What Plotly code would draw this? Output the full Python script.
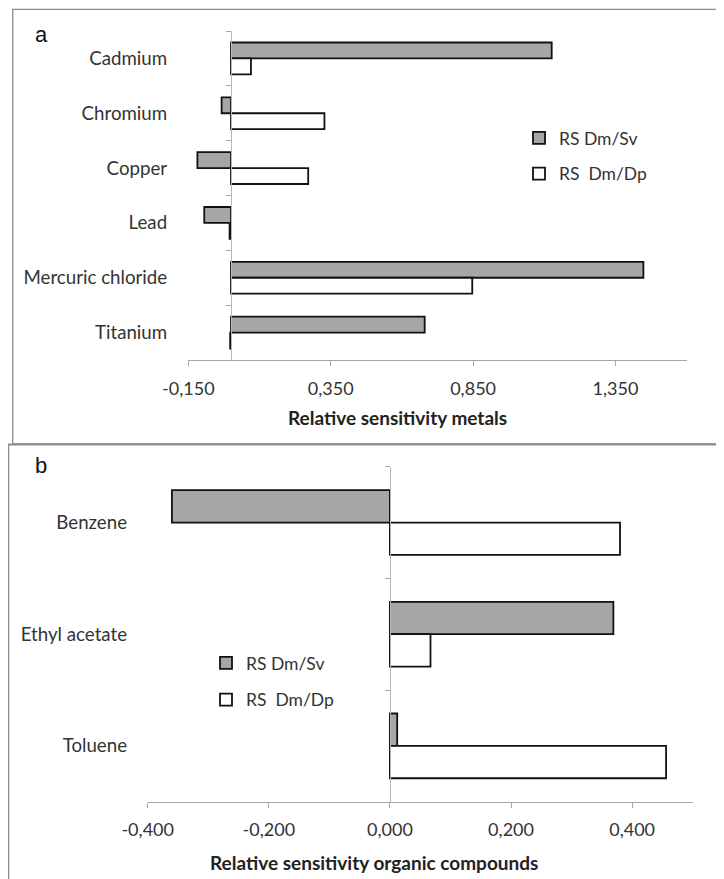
import plotly.graph_objects as go

# ---- data ----
metals = ["Cadmium", "Chromium", "Copper", "Lead", "Mercuric chloride", "Titanium"]
metals_sv = [1.126, -0.033, -0.118, -0.094, 1.448, 0.680]
metals_dp = [0.070, 0.328, 0.271, -0.005, 0.847, -0.003]
metals_ticks = [-0.15, 0.35, 0.85, 1.35]
metals_ticktext = ["-0,150", "0,350", "0,850", "1,350"]
metals_range = [-0.15, 1.6]

organics = ["Benzene", "Ethyl acetate", "Toluene"]
organics_sv = [-0.360, 0.369, 0.012]
organics_dp = [0.380, 0.067, 0.456]
organics_ticks = [-0.4, -0.2, 0.0, 0.2, 0.4]
organics_ticktext = ["-0,400", "-0,200", "0,000", "0,200", "0,400"]
organics_range = [-0.4, 0.5]

series_names = ["RS Dm/Sv", "RS\u00a0 Dm/Dp"]

# page body has an 8px margin; figure fills the rest of the 724x879 window
OFF = 8
W, H = 724 - OFF, 879 - OFF
FONT = "Lato"
GREY = "#a6a6a6"
AXIS = "#a8a8a8"
TXT = "#333333"

def px(x):
    return (x - OFF) / W

def py(y):
    return 1 - (y - OFF) / H

# plot areas in reference-page pixels
a_dom_x = [px(188.3), px(686.7)]
a_dom_y = [py(360.0), py(31.0)]
b_dom_x = [px(147.7), px(692.7)]
b_dom_y = [py(801.7), py(466.7)]

def zero_pos(dom, rng):
    return dom[0] + (0 - rng[0]) / (rng[1] - rng[0]) * (dom[1] - dom[0])

fig = go.Figure()

bar_line = dict(color="#111111", width=1.8)

fig.add_trace(go.Bar(y=metals, x=metals_sv, orientation="h", name=series_names[0],
                     marker=dict(color=GREY, line=bar_line), xaxis="x", yaxis="y",
                     legend="legend", legendgroup="a1"))
fig.add_trace(go.Bar(y=metals, x=metals_dp, orientation="h", name=series_names[1],
                     marker=dict(color="white", line=bar_line), xaxis="x", yaxis="y",
                     legend="legend", legendgroup="a2"))
fig.add_trace(go.Bar(y=organics, x=organics_sv, orientation="h", name=series_names[0],
                     marker=dict(color=GREY, line=bar_line), xaxis="x2", yaxis="y2",
                     legend="legend2", legendgroup="b1"))
fig.add_trace(go.Bar(y=organics, x=organics_dp, orientation="h", name=series_names[1],
                     marker=dict(color="white", line=bar_line), xaxis="x2", yaxis="y2",
                     legend="legend2", legendgroup="b2"))

xcommon = dict(showline=True, linecolor=AXIS, linewidth=1.3, ticks="outside", ticklen=5,
               tickcolor=AXIS, showgrid=False, zeroline=False, automargin=False,
               tickfont=dict(family=FONT, size=18, color=TXT), ticklabelstandoff=7)
ycommon = dict(showline=True, linecolor="#b8b8b8", linewidth=1.3, ticks="outside", ticklen=5,
               tickcolor=AXIS, tickson="boundaries", showgrid=False, zeroline=False,
               automargin=False, autorange="reversed", anchor="free",
               tickfont=dict(family=FONT, size=18.7, color=TXT))

LEG_FONT = dict(family=FONT, size=17.5, color=TXT)

fig.update_layout(
    width=W, height=H,
    margin=dict(l=0, r=0, t=0, b=0),
    paper_bgcolor="white", plot_bgcolor="white",
    barmode="group", bargap=0.42, bargroupgap=0,
    font=dict(family=FONT, size=18, color=TXT),
    xaxis=dict(domain=a_dom_x, range=metals_range, tickvals=metals_ticks,
               ticktext=metals_ticktext, anchor="y", **xcommon),
    yaxis=dict(domain=a_dom_y, position=zero_pos(a_dom_x, metals_range),
               ticklabelstandoff=60, **ycommon),
    xaxis2=dict(domain=b_dom_x, range=organics_range, tickvals=organics_ticks,
                ticktext=organics_ticktext, anchor="y2", **xcommon),
    yaxis2=dict(domain=b_dom_y, position=zero_pos(b_dom_x, organics_range),
                ticklabelstandoff=259, **ycommon),
    legend=dict(x=px(559 - 40), y=py(138 - 18), xanchor="left", yanchor="top",
                traceorder="grouped", tracegroupgap=10, bgcolor="rgba(0,0,0,0)",
                font=LEG_FONT),
    legend2=dict(x=px(246 - 40), y=py(663 - 18), xanchor="left", yanchor="top",
                 traceorder="grouped", tracegroupgap=11, bgcolor="rgba(0,0,0,0)",
                 font=LEG_FONT),
    showlegend=True,
)

# axis titles
TITLE_FONT = dict(family=FONT, size=19, color="#222222")
ann = dict(xref="paper", yref="paper", showarrow=False, xanchor="center", yanchor="middle")
fig.add_annotation(text="<b>Relative sensitivity metals</b>", x=px(398), y=py(418),
                   font=TITLE_FONT, **ann)
fig.add_annotation(text="<b>Relative sensitivity organic compounds</b>", x=px(374), y=py(862),
                   font=TITLE_FONT, **ann)
# panel letters
fig.add_annotation(text="a", x=px(41), y=py(35), font=dict(family="Liberation Sans", size=22,
                   color="#111111"), **ann)
fig.add_annotation(text="b", x=px(41), y=py(465), font=dict(family="Liberation Sans", size=22,
                   color="#111111"), **ann)

# panel frames
frame = dict(color="#8c8c8c", width=1.3)
fig.add_shape(type="rect", xref="paper", yref="paper", x0=px(12.7), x1=px(717),
              y0=py(444), y1=py(9.3), line=frame, fillcolor="rgba(0,0,0,0)")
fig.add_shape(type="line", xref="paper", yref="paper", x0=0, x1=1, y0=py(444.5), y1=py(444.5),
              line=dict(color="#8c8c8c", width=2.2))
fig.add_shape(type="line", xref="paper", yref="paper", x0=px(8.6), x1=px(8.6), y0=py(444), y1=0,
              line=frame)

fig.write_html("out.html")
